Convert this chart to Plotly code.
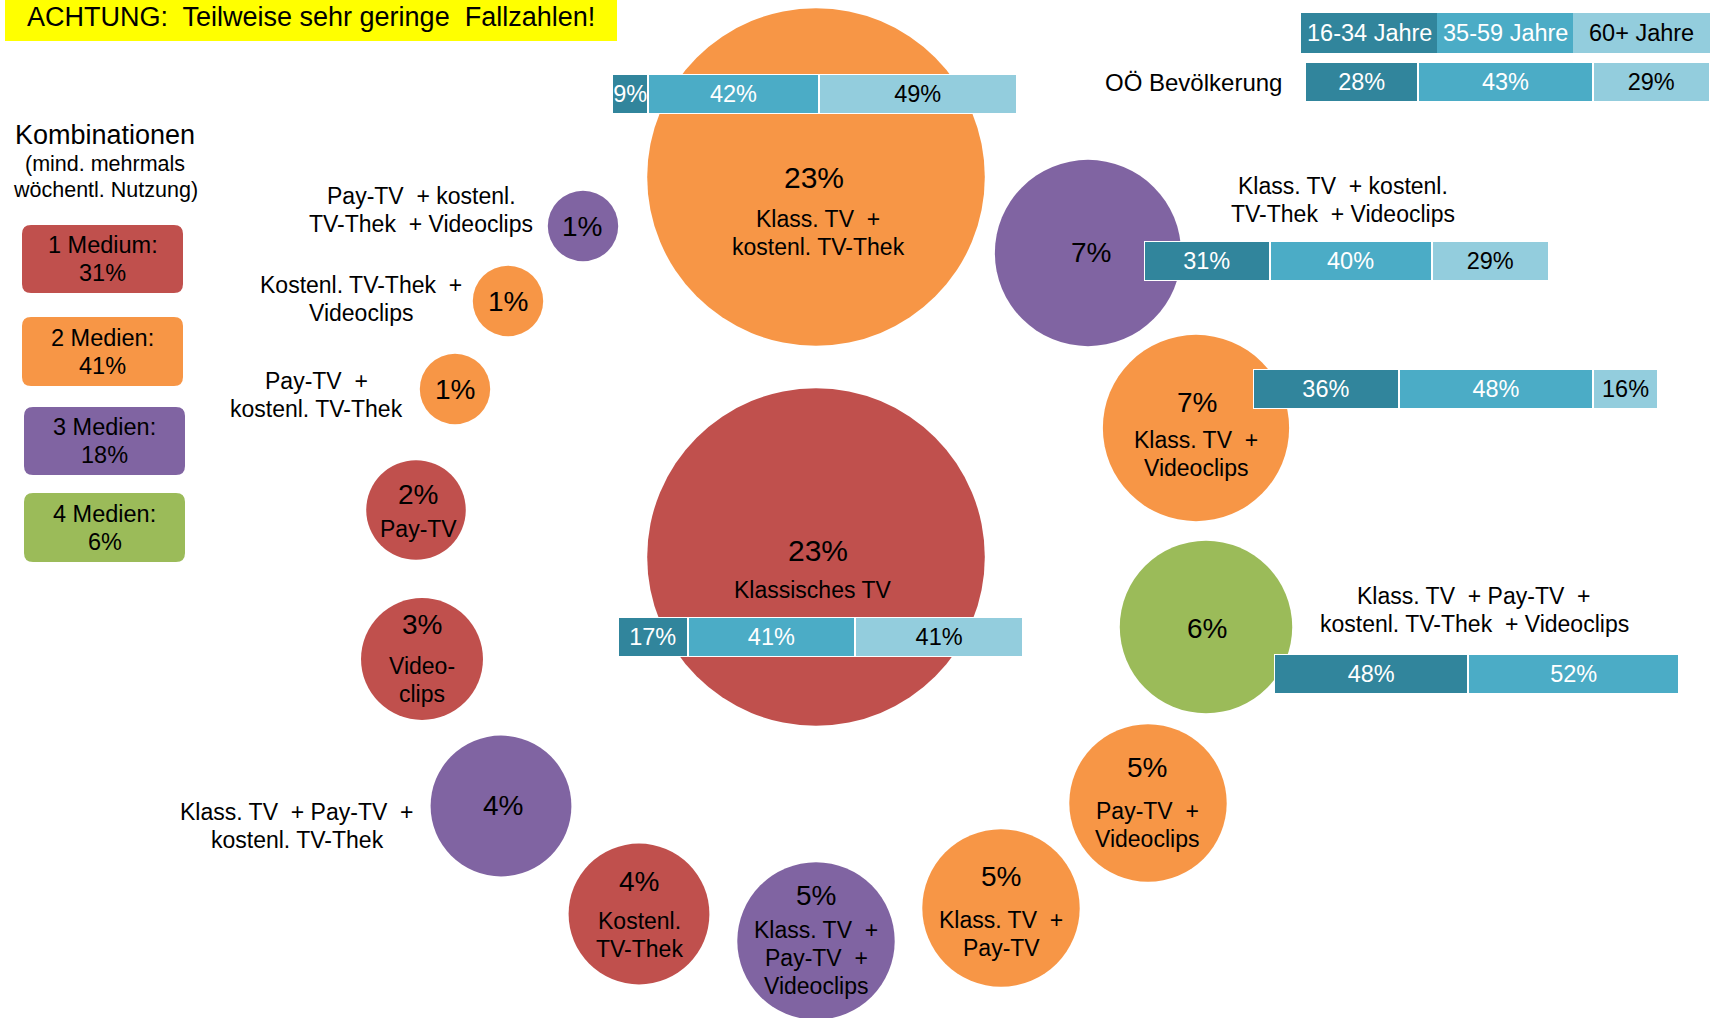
import math
import plotly.graph_objects as go

W, H = 1710, 1018
FONT = "Liberation Sans, Arial, sans-serif"

# ---------------- data ----------------
combo_labels = [
    "Klass. TV  +<br>kostenl. TV-Thek",
    "Klassisches TV",
    "Klass. TV  + kostenl.<br>TV-Thek  + Videoclips",
    "Klass. TV  +<br>Videoclips",
    "Klass. TV  + Pay-TV  +<br>kostenl. TV-Thek  + Videoclips",
    "Pay-TV  +<br>Videoclips",
    "Klass. TV  +<br>Pay-TV",
    "Klass. TV  +<br>Pay-TV  +<br>Videoclips",
    "Kostenl.<br>TV-Thek",
    "Klass. TV  + Pay-TV  +<br>kostenl. TV-Thek",
    "Video-<br>clips",
    "Pay-TV",
    "Pay-TV  +<br>kostenl. TV-Thek",
    "Kostenl. TV-Thek  +<br>Videoclips",
    "Pay-TV  + kostenl.<br>TV-Thek  + Videoclips",
]
combo_share = [23, 23, 7, 7, 6, 5, 5, 5, 4, 4, 3, 2, 1, 1, 1]
combo_media = [2, 1, 3, 2, 4, 2, 2, 3, 1, 3, 1, 1, 2, 2, 3]

legend_labels = ["1 Medium:", "2 Medien:", "3 Medien:", "4 Medien:"]
legend_share = [31, 41, 18, 6]

age_groups = ["16-34 Jahre", "35-59 Jahre", "60+ Jahre"]
age_rows = ["Klass. TV + kostenl. TV-Thek", "OÖ Bevölkerung",
            "Klass. TV + kostenl. TV-Thek + Videoclips", "Klass. TV + Videoclips",
            "Klassisches TV", "Klass. TV + Pay-TV + kostenl. TV-Thek + Videoclips"]
age_16_34 = [9, 28, 31, 36, 17, 48]
age_35_59 = [42, 43, 40, 48, 41, 52]
age_60p = [49, 29, 29, 16, 41, 0]

# ---------------- layout / style ----------------
media_colors = {1: "#C0504D", 2: "#F79646", 3: "#8064A2", 4: "#9BBB59"}
age_colors = ["#31859C", "#4BACC6", "#93CDDD"]
age_text_colors = ["white", "white", "black"]

bubble_pos = [(816, 177), (816, 557), (1088, 253), (1196, 428), (1206, 627),
              (1148, 803), (1001, 908), (816, 941), (639, 914), (501, 806),
              (422, 659), (416, 510), (455, 389), (508, 301), (583, 226)]
pct_pos = [(814, 177), (818, 550), (1091, 252), (1197, 402), (1207, 628),
           (1147, 767), (1001, 876), (816, 895), (639, 881), (503, 805),
           (422, 624), (418, 494), (455, 389), (508, 301), (582, 226)]
label_pos = [(818, 233), (812, 590), (1343, 200), (1196, 454), (1474, 610),
             (1147, 825), (1001, 934), (816, 958), (639, 935), (297, 826),
             (422, 680), (418, 529), (316, 395), (361, 299), (421, 210)]
pct_font = [30, 30, 28, 28, 28, 28, 28, 28, 28, 28, 28, 28, 28, 28, 28]
LINE_H = 28
LABEL_FONT = 23

bar_pos = [(612, 74), (1305, 62), (1144, 241), (1253, 369), (618, 617), (1274, 654)]
BAR_W, BAR_H = 405, 40

legend_boxes = [(22, 225, 183, 293), (22, 317, 183, 386), (24, 407, 185, 475), (24, 493, 185, 562)]

K = 70.4  # px diameter per sqrt(percent)

fig = go.Figure()

# bubbles
fig.add_trace(go.Scatter(
    x=[p[0] for p in bubble_pos], y=[p[1] for p in bubble_pos],
    mode="markers",
    marker=dict(size=[K * math.sqrt(v) for v in combo_share],
                color=[media_colors[m] for m in combo_media],
                line=dict(width=0), opacity=1),
    cliponaxis=False, hoverinfo="skip", showlegend=False,
))

annotations = []
shapes = []


def add_lines(text, cx, cy, size, color="black", spacing=LINE_H):
    lines = text.split("<br>")
    n = len(lines)
    for j, ln in enumerate(lines):
        annotations.append(dict(x=cx, y=cy + (j - (n - 1) / 2) * spacing,
                                text=ln.replace("  ", "\u00a0 "),
                                showarrow=False, xref="x", yref="y",
                                font=dict(size=size, color=color, family=FONT)))


for i, v in enumerate(combo_share):
    annotations.append(dict(x=pct_pos[i][0], y=pct_pos[i][1], text=f"{v}%",
                            showarrow=False, xref="x", yref="y",
                            font=dict(size=pct_font[i], color="black", family=FONT)))
    add_lines(combo_labels[i], label_pos[i][0], label_pos[i][1], LABEL_FONT)

# stacked age bars, each on its own axis pair
layout_axes = {}
for r in range(len(age_rows)):
    n = r + 2
    vals = [age_16_34[r], age_35_59[r], age_60p[r]]
    total = sum(vals)
    x0, y0 = bar_pos[r]
    layout_axes[f"xaxis{n}"] = dict(domain=[x0 / W, min(1, (x0 + BAR_W) / W)], range=[0, total],
                                    visible=False, anchor=f"y{n}", fixedrange=True)
    layout_axes[f"yaxis{n}"] = dict(domain=[1 - (y0 + BAR_H) / H, 1 - y0 / H], range=[-0.5, 0.5],
                                    visible=False, anchor=f"x{n}", fixedrange=True)
    for g in range(3):
        if vals[g] <= 0:
            continue
        fig.add_trace(go.Bar(
            x=[vals[g]], y=[0], orientation="h", width=1,
            xaxis=f"x{n}", yaxis=f"y{n}",
            marker=dict(color=age_colors[g], line=dict(color="white", width=2)),
            text=[f"{vals[g]}%"], textposition="inside", insidetextanchor="middle",
            textangle=0, constraintext="none",
            textfont=dict(size=23.5, color=age_text_colors[g], family=FONT),
            hoverinfo="skip", showlegend=False,
        ))

# row label for population bar
annotations.append(dict(x=1284, y=82, text="OÖ Bevölkerung", showarrow=False, xref="x", yref="y",
                        xanchor="right", font=dict(size=24, color="black", family=FONT)))

# header cells
hx = [1301, 1437, 1573, 1710]
for g in range(3):
    shapes.append(dict(type="rect", xref="x", yref="y", x0=hx[g], x1=hx[g + 1], y0=13, y1=53,
                       fillcolor=age_colors[g], line=dict(width=0), layer="above"))
    annotations.append(dict(x=(hx[g] + hx[g + 1]) / 2, y=33, text=age_groups[g], showarrow=False,
                            xref="x", yref="y",
                            font=dict(size=23.5, color=age_text_colors[g], family=FONT)))

# warning box
shapes.append(dict(type="rect", xref="x", yref="y", x0=5, x1=617, y0=0, y1=41,
                   fillcolor="#FFFF00", line=dict(width=0), layer="below"))
annotations.append(dict(x=311, y=17, text="ACHTUNG:\u00a0 Teilweise sehr geringe\u00a0 Fallzahlen!",
                        showarrow=False, xref="x", yref="y",
                        font=dict(size=27, color="black", family=FONT)))

# legend
annotations.append(dict(x=105, y=135, text="Kombinationen", showarrow=False, xref="x", yref="y",
                        font=dict(size=27, color="black", family=FONT)))
add_lines("(mind. mehrmals<br>wöchentl. Nutzung)", 105, 177, 21.5, spacing=26)


def rounded(x0, y0, x1, y1, r):
    return (f"M{x0 + r},{y0} L{x1 - r},{y0} Q{x1},{y0} {x1},{y0 + r} L{x1},{y1 - r} "
            f"Q{x1},{y1} {x1 - r},{y1} L{x0 + r},{y1} Q{x0},{y1} {x0},{y1 - r} "
            f"L{x0},{y0 + r} Q{x0},{y0} {x0 + r},{y0} Z")


for k in range(4):
    x0, y0, x1, y1 = legend_boxes[k]
    shapes.append(dict(type="path", xref="x", yref="y", path=rounded(x0, y0, x1, y1, 9),
                       fillcolor=media_colors[k + 1], line=dict(width=0), layer="below"))
    add_lines(f"{legend_labels[k]}<br>{legend_share[k]}%", (x0 + x1) / 2, (y0 + y1) / 2, 23.5)

fig.update_layout(
    width=W, height=H, margin=dict(l=0, r=0, t=0, b=0),
    paper_bgcolor="white", plot_bgcolor="rgba(0,0,0,0)",
    xaxis=dict(range=[0, W], visible=False, domain=[0, 1], fixedrange=True),
    yaxis=dict(range=[H, 0], visible=False, domain=[0, 1], fixedrange=True),
    barmode="stack", showlegend=False,
    annotations=annotations, shapes=shapes,
    font=dict(family=FONT),
    **layout_axes,
)

fig.write_html("out.html", config={"displayModeBar": False},
               post_script="document.body.style.margin='0';document.body.style.overflow='hidden';")
